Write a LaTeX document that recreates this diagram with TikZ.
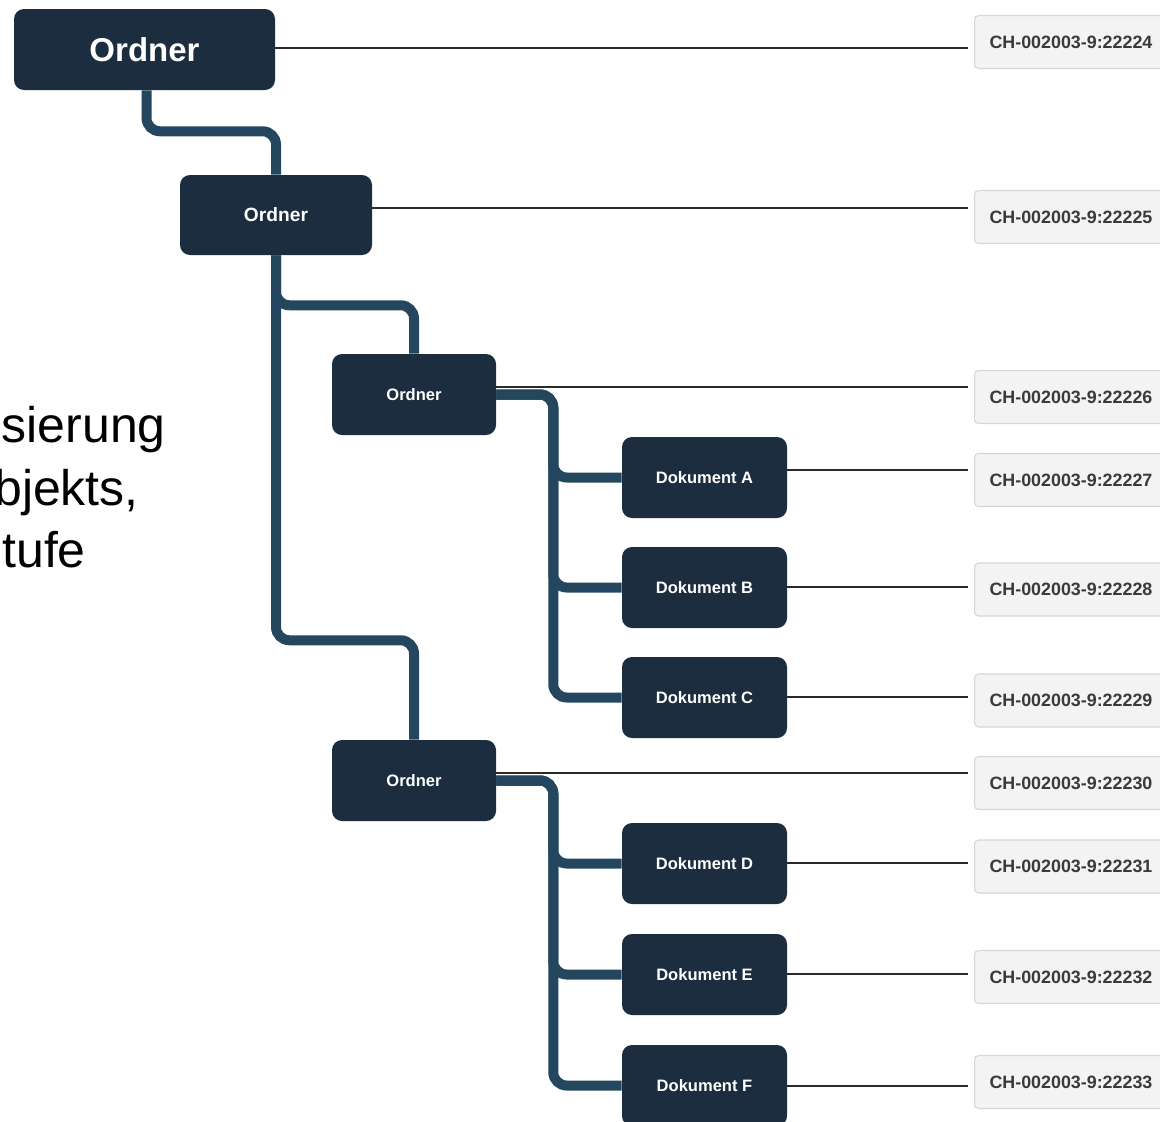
\documentclass[tikz,border=0pt]{standalone}
\usepackage{fontspec}
\setmainfont{Liberation Sans}
\usetikzlibrary{backgrounds}
\definecolor{nodefill}{HTML}{1B2D3E}
\definecolor{connblue}{HTML}{24475F}
\definecolor{lblfill}{HTML}{F3F3F3}
\definecolor{lbldraw}{HTML}{D6D6D6}
\definecolor{lbltext}{HTML}{3A3A3A}
\definecolor{thinline}{HTML}{2A2A2A}
\tikzset{
  box/.style={fill=nodefill, rounded corners=7.5pt, text=white, inner sep=0pt,
    font=\bfseries, align=center},
  bigbox/.style={box, minimum width=195.75pt, minimum height=60.75pt, font=\bfseries\fontsize{24.75}{28}\selectfont},
  midbox/.style={box, minimum width=144pt, minimum height=60pt, font=\bfseries\fontsize{14.4}{17}\selectfont},
  smallbox/.style={box, minimum width=123pt, minimum height=60.75pt, font=\bfseries\fontsize{12.4}{15}\selectfont},
  docbox/.style={box, minimum width=123.75pt, minimum height=60.75pt, font=\bfseries\fontsize{12.4}{15}\selectfont},
  lbl/.style={anchor=west, fill=lblfill, draw=lbldraw, line width=0.8pt, rounded corners=3pt,
    text=lbltext, font=\bfseries\fontsize{13.4}{16}\selectfont, minimum height=39.75pt,
    text width=123.75pt, inner xsep=11.25pt, inner ysep=0pt, align=left},
  conn/.style={draw=connblue, line width=7.5pt, rounded corners=10pt},
  idline/.style={draw=thinline, line width=1.1pt},
  sidetext/.style={anchor=base east, inner sep=0pt, font=\fontsize{37.5}{45}\selectfont, text=black}
}
\begin{document}
\begin{tikzpicture}[x=0.75pt,y=-0.75pt]
\useasboundingbox (0,0) rectangle (1160,1121);
\clip (0,0) rectangle (1160,1121);

% side text (cut off at the left edge, as in the reference)
\node[sidetext] (s1) at (166,442) {sierung};
\node[sidetext] (s2) at (139,505) {bjekts,};
\node[sidetext] (s3) at (86,567) {tufe};

% tree nodes
\node[bigbox] (o1) at (144.5,49.5) {Ordner};
\node[midbox] (o2) at (276,215) {Ordner};
\node[smallbox] (o3) at (414,394.5) {Ordner};
\node[smallbox] (o4) at (414,780.5) {Ordner};
\node[docbox] (dA) at (704.5,477.5) {Dokument A};
\node[docbox] (dB) at (704.5,587.5) {Dokument B};
\node[docbox] (dC) at (704.5,697.5) {Dokument C};
\node[docbox] (dD) at (704.5,863.5) {Dokument D};
\node[docbox] (dE) at (704.5,974.5) {Dokument E};
\node[docbox] (dF) at (704.5,1085.5) {Dokument F};

% identifier labels
\node[lbl] (l1) at (974,42) {CH-002003-9:22224};
\node[lbl] (l2) at (974,217) {CH-002003-9:22225};
\node[lbl] (l3) at (974,397) {CH-002003-9:22226};
\node[lbl] (l4) at (974,480) {CH-002003-9:22227};
\node[lbl] (l5) at (974,589.5) {CH-002003-9:22228};
\node[lbl] (l6) at (974,700.5) {CH-002003-9:22229};
\node[lbl] (l7) at (974,783) {CH-002003-9:22230};
\node[lbl] (l8) at (974,866.5) {CH-002003-9:22231};
\node[lbl] (l9) at (974,977) {CH-002003-9:22232};
\node[lbl] (l10) at (974,1082) {CH-002003-9:22233};

% free ends of the thin lines
\coordinate (e1) at (968,48);
\coordinate (e2) at (968,208);
\coordinate (e3) at (968,387);
\coordinate (e4) at (968,470);
\coordinate (e5) at (968,587);
\coordinate (e6) at (968,697);
\coordinate (e7) at (968,773);
\coordinate (e8) at (968,863);
\coordinate (e9) at (968,974);
\coordinate (e10) at (968,1086);

\begin{pgfonlayer}{background}
  % thin id lines
  \draw[idline] (o1.east |- e1) -- (e1);
  \draw[idline] (o2.east |- e2) -- (e2);
  \draw[idline] (o3.east |- e3) -- (e3);
  \draw[idline] (dA.east |- e4) -- (e4);
  \draw[idline] (dB.east |- e5) -- (e5);
  \draw[idline] (dC.east |- e6) -- (e6);
  \draw[idline] (o4.east |- e7) -- (e7);
  \draw[idline] (dD.east |- e8) -- (e8);
  \draw[idline] (dE.east |- e9) -- (e9);
  \draw[idline] (dF.east |- e10) -- (e10);

  % thick tree connectors
  \draw[conn] ([xshift=1.5]o1.south) -- ++(0,41) -| (o2.north);
  \draw[conn] (o2.south) -- ++(0,385) -| (o4.north);
  \draw[conn] (o2.south) -- ++(0,50) -| (o3.north);
  \draw[conn] (o3.east) -- ++(57,0) |- (dC.west);
  \draw[conn] (o3.east) -- ++(57,0) |- (dB.west);
  \draw[conn] (o3.east) -- ++(57,0) |- (dA.west);
  \draw[conn] (o4.east) -- ++(57,0) |- (dF.west);
  \draw[conn] (o4.east) -- ++(57,0) |- (dE.west);
  \draw[conn] (o4.east) -- ++(57,0) |- (dD.west);
\end{pgfonlayer}
\end{tikzpicture}
\end{document}
